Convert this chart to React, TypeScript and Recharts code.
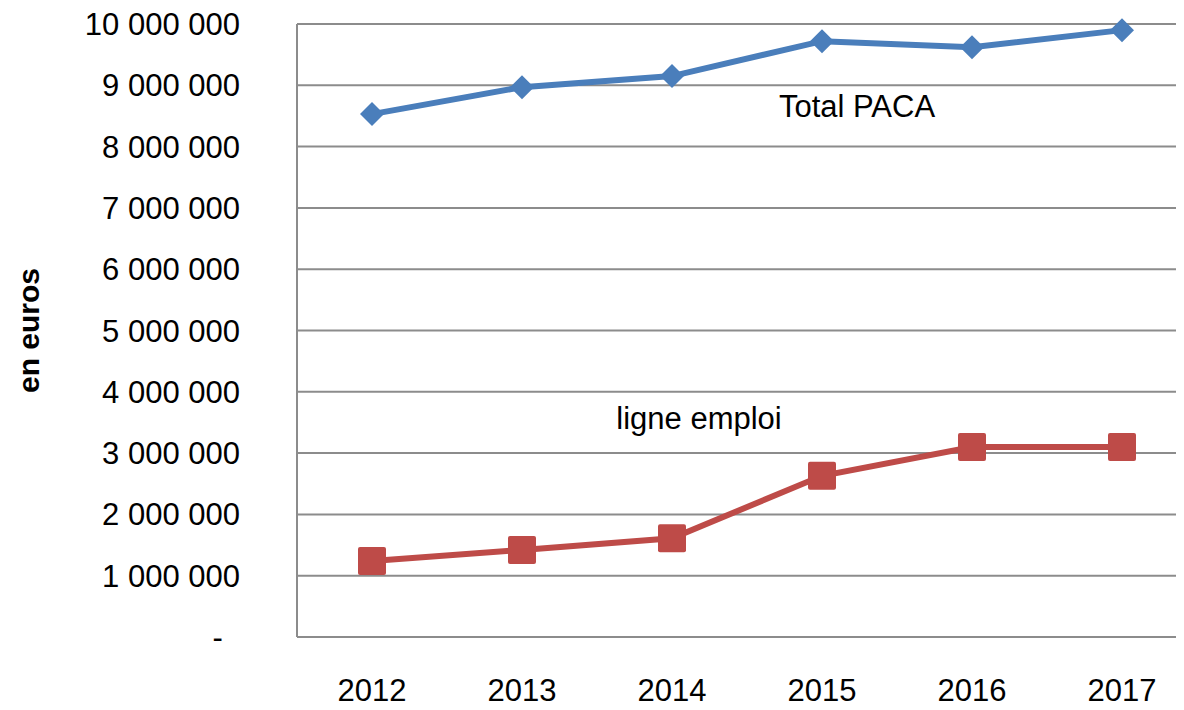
import { LineChart, Line, XAxis, YAxis, CartesianGrid, ReferenceDot } from 'recharts';

const years = ['2012', '2013', '2014', '2015', '2016', '2017'];
const totalPaca = [8530000, 8970000, 9150000, 9720000, 9620000, 9900000];
const ligneEmploi = [1240000, 1420000, 1610000, 2630000, 3100000, 3100000];
const yTicks = [0, 1000000, 2000000, 3000000, 4000000, 5000000, 6000000, 7000000, 8000000, 9000000, 10000000];

// series name annotations placed inside the plot
const notes = [
  { text: 'Total PACA', year: '2015', value: 8650000, dx: 35 },
  { text: 'ligne emploi', year: '2014', value: 3570000, dx: 27 },
];

const FONT = '"Liberation Sans", Arial, sans-serif';

const chartData = years.map((y, i) => ({
  year: y,
  total: totalPaca[i],
  emploi: ligneEmploi[i],
}));

// 1234567 -> "1 234 567", 0 -> "-" (with trailing padding like the spreadsheet format)
function fmt(v: number) {
  if (v === 0) return '-\u00a0\u00a0';
  return String(v).replace(/\B(?=(\d{3})+(?!\d))/g, ' ');
}

const Diamond = (props: any) => {
  const { cx, cy } = props;
  if (cx == null || cy == null) return null;
  const s = 12;
  return (
    <path
      d={`M${cx},${cy - s} L${cx + s},${cy} L${cx},${cy + s} L${cx - s},${cy} Z`}
      fill="#4a7ebb"
    />
  );
};

const Square = (props: any) => {
  const { cx, cy } = props;
  if (cx == null || cy == null) return null;
  const s = 14;
  return <rect x={cx - s} y={cy - s} width={s * 2} height={s * 2} rx={2} fill="#be4b48" />;
};

export default function App() {
  // cancel the body margin so chart coordinates line up with the page
  return (
    <div style={{ width: 1184, height: 710, margin: '-8px 0 -8px -8px' }}>
      <LineChart
        width={1184}
        height={710}
        data={chartData}
        margin={{ top: 24, right: 0, left: 0, bottom: 0 }}
      >
        <CartesianGrid vertical={false} stroke="#8c8c8c" strokeWidth={2} />
        <XAxis
          dataKey="year"
          height={73}
          padding={{ left: 75, right: 62 }}
          tickLine={false}
          tickSize={0}
          tickMargin={42}
          axisLine={{ stroke: '#8c8c8c', strokeWidth: 2 }}
          tick={{ fill: '#000', fontSize: 31, fontFamily: FONT }}
        />
        <YAxis
          width={297}
          domain={[0, 10000000]}
          ticks={yTicks}
          interval={0}
          tickFormatter={fmt}
          tickLine={false}
          tickSize={0}
          tickMargin={57}
          axisLine={{ stroke: '#8c8c8c', strokeWidth: 2 }}
          tick={{ fill: '#000', fontSize: 31, fontFamily: FONT }}
          label={{
            content: (p: any) => {
              const vb = p.viewBox || {};
              const cx = 28;
              const cy = (vb.y ?? 24) + (vb.height ?? 613) / 2;
              return (
                <text
                  x={cx}
                  y={cy}
                  transform={`rotate(-90, ${cx}, ${cy})`}
                  textAnchor="middle"
                  dominantBaseline="central"
                  fontFamily={FONT}
                  fontSize={30}
                  fontWeight="bold"
                  fill="#000"
                >
                  en euros
                </text>
              );
            },
          }}
        />
        <Line
          dataKey="total"
          stroke="#4a7ebb"
          strokeWidth={6}
          dot={<Diamond />}
          activeDot={false}
          isAnimationActive={false}
        />
        <Line
          dataKey="emploi"
          stroke="#be4b48"
          strokeWidth={6}
          dot={<Square />}
          activeDot={false}
          isAnimationActive={false}
        />
        {notes.map((n) => (
          <ReferenceDot
            key={n.text}
            x={n.year}
            y={n.value}
            r={1}
            fill="none"
            stroke="none"
            label={{
              content: (p: any) => {
                const vb = p.viewBox || {};
                const x = (vb.x ?? 0) + (vb.width ?? 0) / 2 + n.dx;
                const y = (vb.y ?? 0) + (vb.height ?? 0) / 2;
                return (
                  <text
                    x={x}
                    y={y}
                    textAnchor="middle"
                    dominantBaseline="central"
                    fontFamily={FONT}
                    fontSize={31}
                    fill="#000"
                  >
                    {n.text}
                  </text>
                );
              },
            }}
          />
        ))}
      </LineChart>
    </div>
  );
}
